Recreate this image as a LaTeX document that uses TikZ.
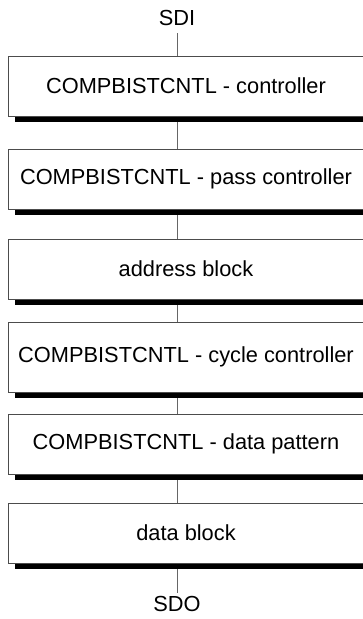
\documentclass[tikz,border=0pt]{standalone}
\usepackage{fontspec}
\setmainfont{Liberation Sans}
\usetikzlibrary{positioning}

\begin{document}
\begin{tikzpicture}[
    x=1pt, y=-1pt,
    font=\fontsize{21.8}{26}\selectfont,
    blk/.style={draw=black!70, line width=1pt, minimum width=356pt, minimum height=60pt, inner sep=0pt},
    wire/.style={draw=black!60, line width=0.9pt}
]
\useasboundingbox (0,0) rectangle (362,619);

\node (sdi) at (177,18) {SDI};
\node[blk] (ctl) at (186,86) {COMPBISTCNTL - controller};
\node[blk] (pass) at (186,179) {COMPBISTCNTL - pass controller};
\node[blk] (addr) at (186,269) {address block};
\node[blk, minimum height=70pt] (cycle) at (186,357) {COMPBISTCNTL - cycle controller};
\node[blk] (pat) at (186,444) {COMPBISTCNTL - data pattern};
\node[blk] (data) at (186,533) {data block};
\node (sdo) at (177,604) {SDO};

% scan chain
\draw[wire] ([yshift=-4pt]sdi.south) -- (sdi |- ctl.north);
\foreach \a/\b in {ctl/pass, pass/addr, addr/cycle, cycle/pat, pat/data}
    \draw[wire] (sdi |- \a.south) -- (sdi |- \b.north);
\draw[wire] (sdi |- data.south) -- (sdo);

% drop shadows
\foreach \n in {ctl, pass, addr, cycle, pat, data}
    \fill ([xshift=7pt]\n.south west) rectangle ([yshift=-5pt]\n.south east);
\end{tikzpicture}
\end{document}
